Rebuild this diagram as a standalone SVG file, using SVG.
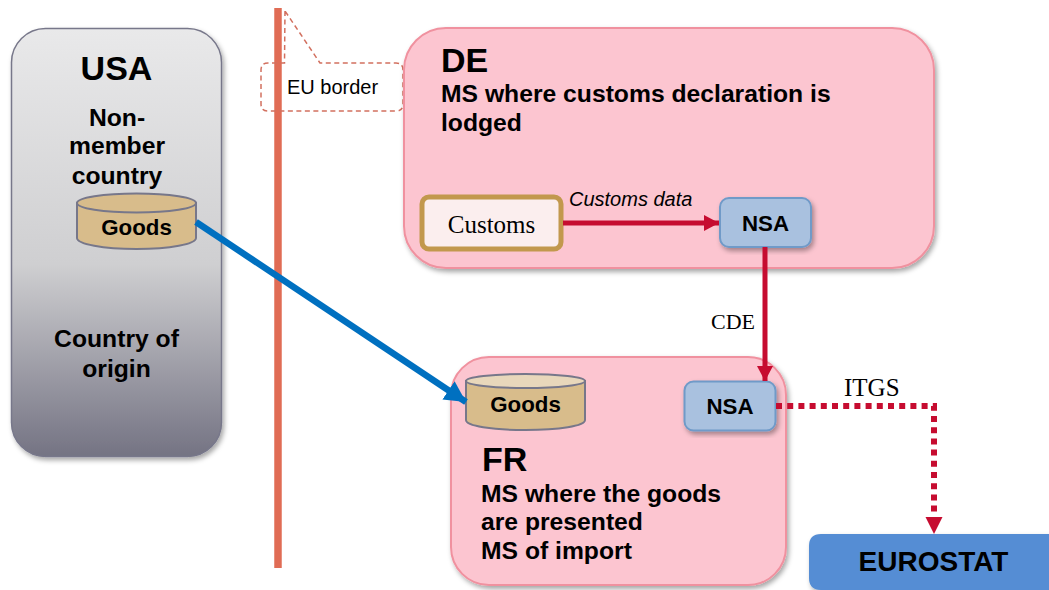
<svg xmlns="http://www.w3.org/2000/svg" width="1049" height="590" viewBox="0 0 1049 590">
<defs>
<linearGradient id="grey" x1="0" y1="0" x2="0" y2="1"><stop offset="0" stop-color="#e9e9ea"/><stop offset="0.55" stop-color="#cfcfd1"/><stop offset="1" stop-color="#747383"/></linearGradient>
<filter id="sh" x="-10%" y="-10%" width="125%" height="125%"><feDropShadow dx="2" dy="3" stdDeviation="2.5" flood-color="#000" flood-opacity="0.35"/></filter>
<marker id="redA" markerUnits="userSpaceOnUse" markerWidth="18" markerHeight="18" refX="15" refY="8" orient="auto"><path d="M0 0L15 8L0 16Z" fill="#c60c30"/></marker>
<marker id="blueA" markerUnits="userSpaceOnUse" markerWidth="24" markerHeight="24" refX="21" refY="11" orient="auto"><path d="M0 0L21 11L0 22Z" fill="#0070c0"/></marker>
</defs>
<style>
text{font-family:"Liberation Sans",Arial,sans-serif;fill:#000}
.b{font-weight:700}
.s{font-family:"Liberation Serif","Times New Roman",serif}
.pink{fill:#fcc5d0;stroke:#f0919f;stroke-width:2;filter:url(#sh)}
.nsa{fill:#a9c1df;stroke:#6f9ac8;stroke-width:2;filter:url(#sh)}
.cyl{fill:#d8bc8b;stroke:#77778a;stroke-width:2}
.top{fill:#e8d7bb;stroke:#77778a;stroke-width:2}
.red{fill:none;stroke:#c60c30;stroke-width:5}
.dot{fill:none;stroke:#c60c30;stroke-width:6;stroke-dasharray:6 5.200}
.call{fill:none;stroke:#d2705f;stroke-width:1.500;stroke-dasharray:5 3.500}
</style>
<rect width="1049" height="590" fill="#fff"/>
<g id="usa">
<rect x="11.500" y="28.500" width="210" height="428" rx="34" fill="url(#grey)" stroke="#77778a" stroke-width="1.500" style="filter:url(#sh)"/>
<text x="116.500" y="80" font-size="34" class="b" text-anchor="middle">USA</text>
<text x="117" y="126" font-size="24.700" class="b" text-anchor="middle">Non-</text>
<text x="117" y="154" font-size="24.700" class="b" text-anchor="middle">member</text>
<text x="117" y="184" font-size="24.700" class="b" text-anchor="middle">country</text>
<text x="116.500" y="347" font-size="24.700" class="b" text-anchor="middle">Country of</text>
<text x="116.500" y="377" font-size="24.700" class="b" text-anchor="middle">origin</text>
</g>
<g id="goods-usa">
<path class="cyl" d="M77 203V238C77 244 103 249 136.500 249S196 244 196 238V203Z"/>
<ellipse class="top" cx="136.500" cy="203" rx="59.500" ry="9.500" style="fill:#d8bc8b"/>
<text x="136.500" y="235" font-size="22.300" class="b" text-anchor="middle">Goods</text>
</g>
<g id="eu-border">
<path d="M278 8V568" stroke="#e06c55" stroke-width="7.500" fill="none"/>
<path class="call" d="M285 11L284.500 63H268Q261 63 261 70V104Q261 111 268 111H396Q403 111 403 104V70Q403 63 396 63H320Z"/>
<text x="287" y="94" font-size="20">EU border</text>
</g>
<g id="de">
<rect class="pink" x="404" y="28" width="530" height="240" rx="42"/>
<text x="441" y="72" font-size="34" class="b">DE</text>
<text x="441" y="102" font-size="24.700" class="b">MS where customs declaration is</text>
<text x="441" y="131" font-size="24.700" class="b">lodged</text>
</g>
<g id="customs">
<rect x="422" y="197" width="139" height="52" rx="7" fill="#fbeeee" stroke="#c2984d" stroke-width="5"/>
<text x="491.500" y="233" font-size="25" class="s" text-anchor="middle">Customs</text>
</g>
<g id="nsa-de">
<rect class="nsa" x="720" y="198" width="91" height="49" rx="9"/>
<text x="765.500" y="231" font-size="22.300" class="b" text-anchor="middle">NSA</text>
</g>
<g id="fr">
<rect class="pink" x="451" y="357" width="335" height="228" rx="38"/>
<text x="482" y="471" font-size="34" class="b">FR</text>
<text x="481" y="502" font-size="24.700" class="b">MS where the goods</text>
<text x="481" y="530" font-size="24.700" class="b">are presented</text>
<text x="481" y="559" font-size="24.700" class="b">MS of import</text>
</g>
<g id="goods-fr">
<path class="cyl" d="M466 381V420C466 426 492 430 525.500 430S585 426 585 420V381Z"/>
<ellipse class="top" cx="525.500" cy="381" rx="59.500" ry="7"/>
<text x="525.500" y="412" font-size="22.300" class="b" text-anchor="middle">Goods</text>
</g>
<g id="nsa-fr">
<rect class="nsa" x="684.500" y="381.500" width="91" height="49" rx="9"/>
<text x="730" y="414" font-size="22.300" class="b" text-anchor="middle">NSA</text>
</g>
<g id="eurostat">
<path d="M1049 534H821Q809 534 809 546V578Q809 590 821 590H1049Z" fill="#548dd4" style="filter:url(#sh)"/>
<text x="933.500" y="571" font-size="28" class="b" text-anchor="middle">EUROSTAT</text>
</g>
<g id="connectors">
<path class="red" d="M563 223H719" marker-end="url(#redA)"/>
<path class="red" d="M765 247V381" marker-end="url(#redA)"/>
<path class="dot" d="M776 406H934V516"/>
<path d="M925.500 517H942.500L934 534Z" fill="#c60c30"/>
<path d="M196 222L466 402" fill="none" stroke="#0070c0" stroke-width="6.500" marker-end="url(#blueA)"/>
<text x="569" y="206" font-size="20" font-style="italic" fill="#222">Customs data</text>
<text x="711" y="329" font-size="22" class="s">CDE</text>
<text x="844" y="396" font-size="25" class="s">ITGS</text>
</g>
</svg>
